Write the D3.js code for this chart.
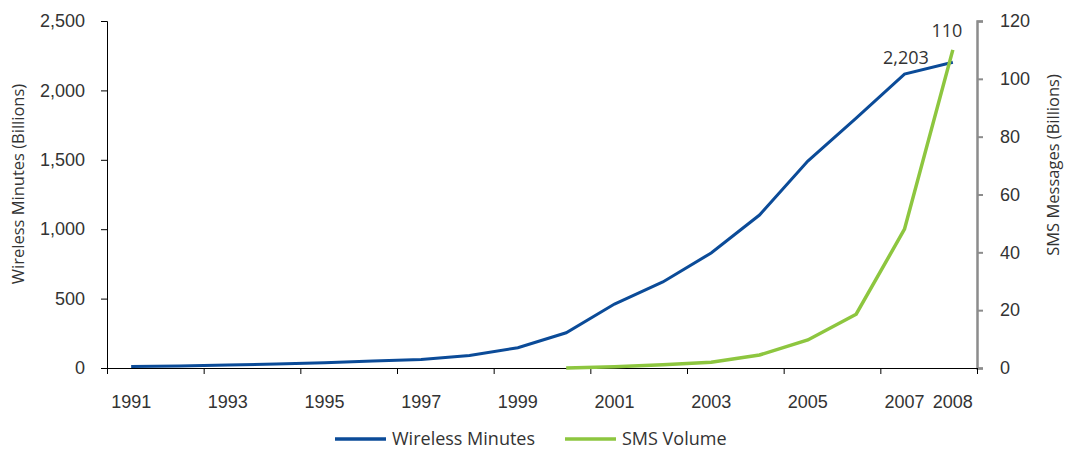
<!DOCTYPE html>
<html>
<head>
<meta charset="utf-8">
<script src="https://cdn.jsdelivr.net/npm/d3@7"></script>
<style>
  body { margin: 0; background: #fff; }
  svg { display: block; font-family: 'Open Sans', sans-serif; }
  text { fill: #333; }
</style>
</head>
<body>
<svg id="chart" width="1066" height="449"></svg>
<script>
// data
const years = d3.range(1991, 2009)
const wirelessMinutes = [10, 15, 21, 28, 38, 50, 62, 90, 146, 254, 461, 620, 829, 1102, 1491, 1800, 2118, 2203]
const smsVolume = [null, null, null, null, null, null, null, null, null, 0, 0.4, 1.1, 2.0, 4.5, 9.7, 18.6, 48, 110]
const labelYears = [1991, 1993, 1995, 1997, 1999, 2001, 2003, 2005, 2007, 2008]
const leftTicks = [0, 500, 1000, 1500, 2000, 2500]
const rightTicks = [0, 20, 40, 60, 80, 100, 120]

const blue = '#0b4b98'
const green = '#8dc63f'
const plot = { left: 107, right: 977, top: 21, bottom: 368 }
const fs = '18px'

const svg = d3.select('#chart')

const x = d3.scaleBand().domain(years).range([plot.left, plot.right])
const xEdge = d3.scaleLinear().domain([0, years.length]).range([plot.left, plot.right])
const yL = d3.scaleLinear().domain([0, 2500]).range([plot.bottom, plot.top])
const yR = d3.scaleLinear().domain([0, 120]).range([plot.bottom, plot.top])
const cx = d => x(d) + x.bandwidth() / 2

// left axis
const gL = svg.append('g')
  .attr('transform', `translate(${plot.left},0)`)
  .call(d3.axisLeft(yL).tickValues(leftTicks).tickSize(6).tickPadding(16).tickFormat(d3.format(',')))
gL.select('.domain').attr('stroke', '#000')
gL.selectAll('.tick line').attr('stroke', '#000')
gL.selectAll('text').style('font-size', fs).attr('fill', '#333')

// right axis
const gR = svg.append('g')
  .attr('transform', `translate(${plot.right},0)`)
  .call(d3.axisRight(yR).tickValues(rightTicks).tickSize(6).tickPadding(17))
gR.select('.domain').attr('stroke', '#8c8c8c').attr('stroke-width', 2.5)
gR.selectAll('.tick line').attr('stroke', '#8c8c8c').attr('stroke-width', 2)
gR.selectAll('text').style('font-size', fs).attr('fill', '#333')

// x axis: tick marks on category edges, labels in centres
const gX = svg.append('g')
  .attr('transform', `translate(0,${plot.bottom})`)
  .call(d3.axisBottom(xEdge).tickValues(d3.range(0, years.length + 1, 2)).tickSize(6).tickFormat(''))
gX.select('.domain').attr('stroke', '#000')
gX.selectAll('.tick line').attr('stroke', '#000')

const gXL = svg.append('g')
  .attr('transform', `translate(0,${plot.bottom})`)
  .call(d3.axisBottom(x).tickValues(labelYears).tickSize(0).tickPadding(27))
gXL.select('.domain').remove()
gXL.selectAll('text').style('font-size', fs).attr('fill', '#333')

// axis titles
svg.append('text')
  .attr('transform', `translate(24,184) rotate(-90)`)
  .attr('text-anchor', 'middle')
  .style('font-size', '16.5px')
  .text('Wireless Minutes (Billions)')
svg.append('text')
  .attr('transform', `translate(1059,165) rotate(-90)`)
  .attr('text-anchor', 'middle')
  .style('font-size', '16.5px')
  .text('SMS Messages (Billions)')

// lines
const lineL = d3.line().x((d, i) => cx(years[i])).y(d => yL(d))
svg.append('path')
  .datum(wirelessMinutes)
  .attr('fill', 'none')
  .attr('stroke', blue)
  .attr('stroke-width', 3)
  .attr('d', lineL)

const lineR = d3.line()
  .defined(d => d !== null)
  .x((d, i) => cx(years[i]))
  .y(d => yR(d))
svg.append('path')
  .datum(smsVolume)
  .attr('fill', 'none')
  .attr('stroke', green)
  .attr('stroke-width', 3.5)
  .attr('d', lineR)

// data labels
const last = years.length - 1
svg.append('text')
  .attr('x', cx(years[last]) - 24)
  .attr('y', yL(wirelessMinutes[last]) + 2)
  .attr('text-anchor', 'end')
  .style('font-size', fs)
  .text(d3.format(',')(wirelessMinutes[last]))
svg.append('text')
  .attr('x', cx(years[last]) - 6)
  .attr('y', yR(smsVolume[last]) - 13)
  .attr('text-anchor', 'middle')
  .style('font-size', fs)
  .text(smsVolume[last])

// legend
const legend = [
  { name: 'Wireless Minutes', color: blue, x: 335 },
  { name: 'SMS Volume', color: green, x: 565 }
]
const lg = svg.selectAll('.legend')
  .data(legend)
  .enter()
  .append('g')
  .attr('class', 'legend')
  .attr('transform', d => `translate(${d.x},439)`)
lg.append('line')
  .attr('x1', 0).attr('x2', 51)
  .attr('stroke', d => d.color)
  .attr('stroke-width', 3.5)
lg.append('text')
  .attr('x', 57)
  .attr('dy', '0.35em')
  .style('font-size', fs)
  .text(d => d.name)
</script>
</body>
</html>
